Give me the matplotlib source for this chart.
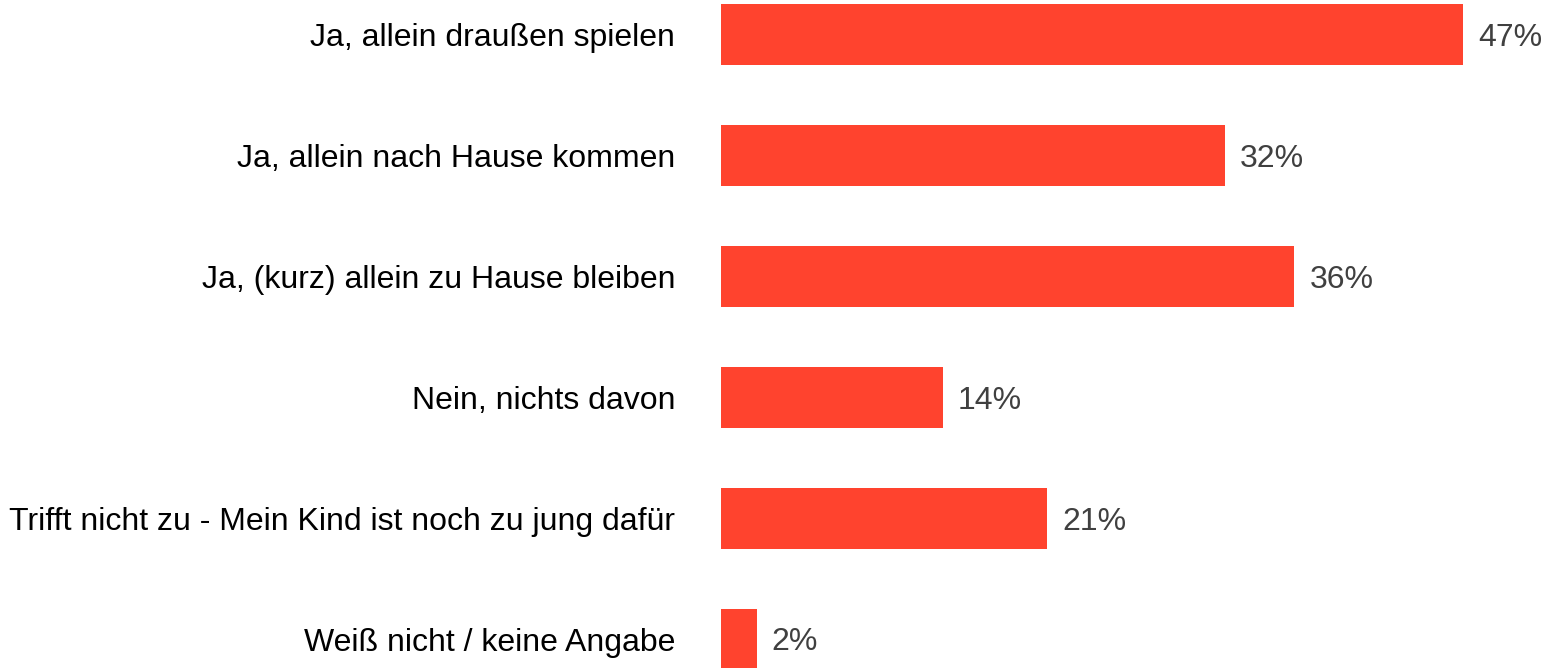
import matplotlib
matplotlib.use("Agg")
import matplotlib.pyplot as plt

categories = [
    "Ja, allein draußen spielen",
    "Ja, allein nach Hause kommen",
    "Ja, (kurz) allein zu Hause bleiben",
    "Nein, nichts davon",
    "Trifft nicht zu - Mein Kind ist noch zu jung dafür",
    "Weiß nicht / keine Angabe",
]
values = [47.0, 31.9, 36.3, 14.05, 20.65, 2.25]
labels = ["47%", "32%", "36%", "14%", "21%", "2%"]

W, H = 1544, 668
plt.rcParams['font.family'] = ['Liberation Sans', 'DejaVu Sans']
fig = plt.figure(figsize=(W / 100, H / 100), dpi=100)
ax = fig.add_axes([721 / W, 0, 1 - 721 / W, 1])

ypos = list(range(len(categories)))
ax.barh(ypos, values, height=0.5, color="#FF432E")
px_per_unit_x = 742.3 / 47.0
ax.set_xlim(0, (W - 721) / px_per_unit_x)
ax.set_ylim((H - 34.5) / 121.0, -34.5 / 121.0)

for y, v, lab in zip(ypos, values, labels):
    ax.annotate(lab, (v, y), xytext=(15, -3), textcoords="offset pixels",
                va="center", ha="left", fontsize=23, color="#404040")

ax.set_yticks(ypos)
ax.set_yticklabels(categories, fontsize=23, color="black")
ax.tick_params(axis="y", length=0, pad=33)
ax.set_xticks([])
for s in ax.spines.values():
    s.set_visible(False)

fig.savefig("out.png", dpi=100)
